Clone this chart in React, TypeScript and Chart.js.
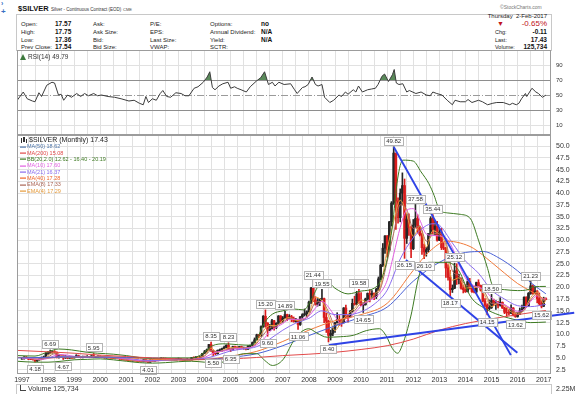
import React, { useEffect, useRef } from "react";
import { Chart, registerables } from "chart.js";

Chart.register(...registerables);
Chart.defaults.font.family = "'Liberation Sans', Arial, sans-serif";

// ---------------- DATA ----------------
const START_YEAR = 1997; // first monthly candle: Jan 1997

const OPEN = [
  4.78,4.82,5.18,4.98,4.75,4.72,4.62,4.35,4.58,4.80,4.90,5.20,
  5.98,6.05,6.30,6.35,6.20,5.15,5.50,5.40,5.00,5.15,4.95,5.05,
  5.00,5.20,5.50,5.10,5.05,5.35,5.15,5.30,5.20,5.45,5.10,5.15,
  5.40,5.25,5.10,5.00,5.05,5.00,4.98,4.90,4.92,4.85,4.75,4.70,
  4.60,4.55,4.45,4.35,4.40,4.35,4.30,4.25,4.20,4.65,4.20,4.10,
  4.55,4.22,4.50,4.55,4.60,4.90,4.85,4.55,4.60,4.55,4.45,4.55,
  4.80,4.85,4.60,4.45,4.55,4.60,4.55,5.05,5.00,5.20,5.05,5.35,
  5.95,6.30,6.70,7.85,6.50,6.00,5.90,6.60,6.75,7.00,7.25,7.70,
  6.80,6.70,7.40,7.15,6.95,7.40,7.05,7.15,6.85,7.50,7.65,8.25,
  8.85,9.90,9.70,11.65,13.85,12.40,10.90,11.20,12.90,11.50,12.35,13.90,
  12.90,13.45,14.20,13.35,13.75,13.35,12.75,12.95,12.10,13.75,14.20,14.40,
  14.80,16.85,19.85,17.25,16.40,16.90,17.55,17.60,13.60,12.80,9.80,10.20,
  11.30,12.50,13.20,13.10,12.50,15.60,13.90,13.70,14.90,16.60,16.40,18.60,
  16.90,16.20,16.30,17.50,18.70,18.40,18.70,18.00,19.60,21.80,24.70,28.30,
  30.90,27.90,33.90,37.90,48.50,38.30,34.80,40.00,41.60,30.40,34.50,32.70,
  28.20,33.20,34.60,32.50,31.20,28.40,27.50,28.00,31.40,34.60,32.30,33.00,
  30.00,31.70,28.40,28.30,24.10,22.10,19.50,19.80,23.50,21.70,21.90,19.80,
  19.50,19.10,21.20,19.80,19.10,19.00,21.00,20.40,19.40,17.10,16.20,15.50,
  15.70,17.20,16.60,16.60,16.20,16.80,15.60,14.70,14.60,14.50,15.60,14.10,
  13.80,14.30,15.00,15.40,17.90,16.00,18.70,20.30,18.70,19.20,17.60,16.50,
  15.99,17.57,
];
const HIGH = [
  4.92,5.30,5.30,5.00,4.90,4.78,4.65,4.65,4.90,5.20,5.40,6.15,
  6.40,6.69,6.50,6.55,6.30,5.60,5.60,5.50,5.55,5.30,5.20,5.10,
  5.30,5.70,5.60,5.25,5.40,5.40,5.50,5.35,5.50,5.95,5.30,5.45,
  5.45,5.35,5.15,5.15,5.10,5.10,5.05,5.00,5.00,4.90,4.80,4.75,
  4.80,4.60,4.50,4.45,4.55,4.40,4.35,4.30,4.70,4.70,4.25,4.65,
  4.65,4.55,4.70,4.65,5.10,5.05,5.00,4.70,4.70,4.60,4.60,4.85,
  5.00,4.90,4.65,4.70,4.85,4.65,5.10,5.25,5.30,5.20,5.40,6.00,
  6.60,6.90,7.90,8.35,6.55,6.30,6.70,6.90,7.10,7.50,7.80,8.23,
  6.90,7.50,7.50,7.40,7.45,7.50,7.30,7.20,7.60,7.75,8.40,9.25,
  10.05,10.00,11.80,14.00,15.20,12.50,12.10,13.20,13.00,12.50,14.00,14.00,
  13.80,14.89,14.30,14.20,14.05,13.70,13.40,13.00,13.80,14.40,15.40,15.00,
  17.10,20.00,21.44,18.00,17.60,17.60,19.55,17.70,14.50,13.00,10.90,11.40,
  12.50,14.60,14.00,13.20,15.70,16.20,14.10,15.10,17.50,18.10,19.15,19.58,
  18.90,16.50,17.70,18.80,19.50,19.30,18.80,19.80,22.20,24.90,29.30,31.00,
  31.00,34.00,38.20,49.82,48.50,39.00,40.90,44.30,43.00,35.60,35.60,33.00,
  34.40,37.58,35.40,33.00,31.50,29.20,28.50,31.40,35.00,35.44,34.20,34.00,
  32.50,32.50,29.50,28.50,24.80,23.60,20.50,25.12,25.00,22.80,22.00,20.50,
  20.50,22.20,21.90,20.30,19.80,21.10,21.60,20.50,19.50,17.60,16.50,17.30,
  18.50,17.50,17.20,17.00,17.80,16.90,15.80,15.70,15.30,16.30,15.70,14.50,
  14.60,15.60,16.20,18.00,18.00,18.90,21.23,20.50,20.00,19.30,18.80,17.20,
  17.90,17.75,
];
const LOW = [
  4.68,4.75,4.90,4.63,4.65,4.55,4.18,4.25,4.50,4.70,4.85,5.10,
  5.75,5.95,6.00,6.05,5.00,4.95,5.25,4.67,4.90,4.85,4.90,4.85,
  4.95,5.15,5.05,5.00,5.00,5.05,5.10,5.05,5.10,5.05,5.05,5.10,
  5.10,5.05,4.95,4.95,4.95,4.90,4.85,4.80,4.80,4.70,4.60,4.55,
  4.50,4.40,4.30,4.30,4.30,4.20,4.15,4.15,4.15,4.15,4.01,4.05,
  4.20,4.20,4.45,4.45,4.55,4.80,4.50,4.50,4.50,4.40,4.40,4.50,
  4.75,4.55,4.40,4.40,4.50,4.45,4.50,4.95,4.95,4.90,5.00,5.30,
  5.95,6.20,6.65,6.40,5.50,5.70,5.80,6.40,6.40,6.95,7.15,6.75,
  6.35,6.55,7.05,6.85,6.85,6.95,6.85,6.70,6.80,7.35,7.60,8.15,
  8.80,9.30,9.55,11.50,11.50,9.60,10.80,11.10,10.90,11.20,12.20,12.40,
  12.55,13.40,12.90,13.30,12.70,12.60,12.60,11.06,11.90,13.40,13.90,13.60,
  14.70,16.50,16.95,16.20,16.00,16.10,17.30,12.50,10.40,8.40,8.80,9.70,
  10.40,12.40,11.90,11.70,12.40,13.50,12.60,13.60,14.80,16.20,16.30,16.60,
  16.10,14.65,16.20,17.30,16.90,17.70,17.40,17.60,19.30,21.60,24.40,27.20,
  26.40,27.70,33.00,37.60,32.30,33.60,33.90,37.60,26.15,29.30,31.00,26.30,
  28.00,32.70,31.50,30.90,27.00,26.10,26.60,27.50,31.20,31.40,31.00,29.80,
  29.90,28.00,28.00,22.10,21.50,18.17,18.90,19.70,20.60,20.70,19.60,18.80,
  18.90,19.00,19.60,18.90,18.80,18.70,20.30,19.20,16.90,15.80,14.15,15.20,
  15.50,16.10,15.30,15.60,16.00,15.50,14.40,13.90,14.10,14.40,13.90,13.62,
  13.65,14.20,14.80,15.30,15.80,15.90,18.50,18.50,18.60,16.70,16.10,15.62,
  15.90,17.36,
];
const CLOSE = [
  4.82,5.18,4.98,4.75,4.72,4.62,4.35,4.58,4.80,4.90,5.20,5.98,
  6.05,6.30,6.35,6.20,5.15,5.50,5.40,5.00,5.15,4.95,5.05,5.00,
  5.20,5.50,5.10,5.05,5.35,5.15,5.30,5.20,5.45,5.10,5.15,5.40,
  5.25,5.10,5.00,5.05,5.00,4.98,4.90,4.92,4.85,4.75,4.70,4.60,
  4.55,4.45,4.35,4.40,4.35,4.30,4.25,4.20,4.65,4.20,4.10,4.55,
  4.22,4.50,4.55,4.60,4.90,4.85,4.55,4.60,4.55,4.45,4.55,4.80,
  4.85,4.60,4.45,4.55,4.60,4.55,5.05,5.00,5.20,5.05,5.35,5.95,
  6.30,6.70,7.85,6.50,6.00,5.90,6.60,6.75,7.00,7.25,7.70,6.80,
  6.70,7.40,7.15,6.95,7.40,7.05,7.15,6.85,7.50,7.65,8.25,8.85,
  9.90,9.70,11.65,13.85,12.40,10.90,11.20,12.90,11.50,12.35,13.90,12.90,
  13.45,14.20,13.35,13.75,13.35,12.75,12.95,12.10,13.75,14.20,14.40,14.80,
  16.85,19.85,17.25,16.40,16.90,17.55,17.60,13.60,12.80,9.80,10.20,11.30,
  12.50,13.20,13.10,12.50,15.60,13.90,13.70,14.90,16.60,16.40,18.60,16.90,
  16.20,16.30,17.50,18.70,18.40,18.70,18.00,19.60,21.80,24.70,28.30,30.90,
  27.90,33.90,37.90,48.50,38.30,34.80,40.00,41.60,30.40,34.50,32.70,28.20,
  33.20,34.60,32.50,31.20,28.40,27.50,28.00,31.40,34.60,32.30,33.00,30.00,
  31.70,28.40,28.30,24.10,22.10,19.50,19.80,23.50,21.70,21.90,19.80,19.50,
  19.10,21.20,19.80,19.10,19.00,21.00,20.40,19.40,17.10,16.20,15.50,15.70,
  17.20,16.60,16.60,16.20,16.80,15.60,14.70,14.60,14.50,15.60,14.10,13.80,
  14.30,15.00,15.40,17.90,16.00,18.70,20.30,18.70,19.20,17.60,16.50,15.99,
  17.50,17.43,
];

// Overlays (time in decimal years, value in $)
const MA200_T = [1996.81,1998,1999,2000,2001,2002,2003,2004,2005,2006,2007,2008,2009,2010,2011,2012,2013,2014,2015,2016,2017.083];
const MA200_V = [6.6,6.3,6.0,5.6,5.3,5.0,4.8,4.7,4.8,5.1,5.5,5.8,6.2,6.8,7.6,9.0,10.9,12.3,13.3,14.2,15.08];

const MA50_T = [1996.81,1998,1999,2000,2001,2002,2003,2004,2005,2006,2007,2008,2009,2010,2011,2012,2013,2014,2014.7,2015.2,2016,2016.5,2017.083];
const MA50_V = [5.0,5.14,5.19,5.19,5.12,5.0,4.78,4.7,5.14,5.9,7.6,9.75,11.8,13.65,15.8,21.3,25.3,27.4,27.6,26.5,23.5,21.0,18.62];

const MA40_T = [1996.81,1998,1999,2000,2001,2002,2003,2004,2005,2006,2007,2008,2009,2010,2011,2012,2012.6,2013.3,2013.8,2014.3,2015,2015.5,2016,2016.5,2017.083];
const MA40_V = [5.1,5.0,5.2,5.3,5.05,4.7,4.55,4.65,5.4,6.4,8.5,10.9,12.9,14.2,16.6,23.6,27.5,29.8,29.4,28.3,25.3,23.0,20.8,19.2,17.28];

const MA21_T = [1996.81,1997.5,1998,1998.5,1999,1999.5,2000,2000.5,2001,2001.5,2002,2002.5,2003,2003.5,2004,2004.5,2005,2005.5,2006,2006.5,2007,2007.5,2008,2008.5,2009,2009.5,2010,2010.5,2011,2011.5,2012,2012.5,2012.8,2013,2013.5,2014,2014.5,2015,2015.5,2016,2016.5,2017.083];
const MA21_V = [5.1,5.0,4.95,5.3,5.35,5.3,5.25,5.1,4.95,4.6,4.45,4.45,4.55,4.65,4.9,5.6,6.5,6.9,7.4,9.0,10.9,12.4,13.4,15.0,14.2,14.2,14.8,16.4,19.4,26.0,30.5,33.1,33.5,33.2,29.4,25.6,23.0,19.4,17.5,16.1,15.9,16.37];

const BBU_T = [1996.81,1997.5,1998.0,1998.4,1998.9,1999.5,1999.9,2000.5,2001.0,2001.5,2002.0,2002.5,2003.0,2003.5,2003.9,2004.3,2004.8,2005.3,2005.8,2006.0,2006.3,2006.6,2007.0,2007.4,2007.8,2008.1,2008.4,2008.7,2009.0,2009.5,2010.0,2010.5,2010.8,2011.0,2011.2,2011.4,2011.6,2012.0,2012.3,2012.6,2012.8,2013.0,2013.3,2013.8,2014.2,2014.5,2014.85,2015.05,2015.5,2016.0,2016.4,2016.6,2017.083];
const BBU_V = [5.5,5.4,6.3,6.9,6.7,6.2,6.0,5.8,5.5,5.1,4.9,5.0,5.0,5.0,5.8,7.6,8.0,7.8,7.7,9.0,12.5,14.3,15.0,15.4,15.2,17.5,20.6,21.2,19.8,18.6,19.2,19.8,22.0,26.0,33.0,43.0,47.0,46.8,44.5,42.0,39.5,36.5,35.8,35.5,34.5,30.0,24.0,20.3,19.5,19.3,19.5,20.1,20.19];

const BBL_T = [1996.81,1997.5,1998.0,1998.5,1999.0,1999.5,2000.0,2000.5,2001.0,2001.5,2002.0,2002.5,2003.0,2003.5,2004.0,2004.5,2005.0,2005.5,2006.0,2006.3,2006.6,2007.0,2007.4,2007.7,2008.0,2008.3,2008.7,2009.2,2009.7,2010.2,2010.7,2010.95,2011.2,2011.4,2011.6,2011.9,2012.25,2012.6,2013.3,2013.75,2014.2,2014.75,2015.3,2016.0,2016.5,2017.083];
const BBL_V = [4.3,4.1,4.1,4.3,4.6,4.7,4.8,4.6,4.3,4.0,3.9,4.0,4.2,4.3,4.1,3.9,4.8,5.9,5.9,4.5,3.4,4.6,8.5,10.5,11.2,10.3,9.4,9.5,9.8,10.8,11.2,9.8,7.0,6.0,8.0,13.7,23.0,25.3,25.3,23.5,18.0,15.5,14.1,13.0,12.5,12.62];

// quarterly samples (1997.00 ... 2017.00, then Feb 2017)
const MA10_V = [
  4.9,4.9,4.8,4.7, 4.9,5.5,5.7,5.6, 5.3,5.2,5.2,5.25, 5.25,5.2,5.1,4.95, 4.8,4.6,4.45,4.35,
  4.35,4.4,4.55,4.65, 4.65,4.65,4.6,4.8, 5.1,5.8,6.3,6.5, 6.8,7.0,7.05,7.2, 7.8,8.9,10.6,11.5,
  12.3,13.2,13.2,13.3, 13.9,15.6,17.0,15.8, 13.8,12.2,13.2,14.5, 16.0,17.0,17.7,18.9, 21.5,27.0,32.7,36.4,
  36.7,34.3,31.3,31.0, 30.9,30.5,28.4,24.9, 22.0,20.6,20.0,19.4, 17.8,16.7,16.3,15.5, 14.9,15.3,17.0,18.2,
  17.5,17.6,
];
const EMA8_V = [
  4.9,4.95,4.8,4.7, 5.2,5.9,5.7,5.3, 5.1,5.2,5.2,5.27, 5.25,5.15,5.03,4.92, 4.72,4.5,4.38,4.38,
  4.35,4.42,4.68,4.62, 4.65,4.62,4.6,4.9, 5.4,6.6,6.3,6.6, 7.0,7.1,7.1,7.2, 8.1,9.9,11.4,11.8,
  12.6,13.4,13.2,13.1, 14.1,16.8,17.0,14.8, 12.0,12.5,13.8,15.0, 16.6,16.9,18.1,19.8, 25.5,31.5,37.5,36.5,
  32.5,33.0,29.8,31.2, 31.5,29.7,23.5,22.5, 20.5,20.2,20.1,18.8, 16.6,16.6,16.3,15.2, 14.6,15.1,17.3,18.6,
  17.2,17.33,
];
const EMA4_V = [
  4.8,5.0,4.68,4.62, 5.5,6.25,5.5,5.15, 5.0,5.25,5.2,5.3, 5.25,5.1,5.0,4.88, 4.65,4.42,4.34,4.4,
  4.35,4.45,4.8,4.57, 4.65,4.6,4.57,5.05, 5.6,7.1,6.15,6.8, 7.2,7.15,7.15,7.2, 8.4,10.7,11.9,11.9,
  13.0,13.6,13.0,13.0, 14.5,17.9,17.1,14.0, 10.8,12.8,14.4,15.5, 17.3,16.9,18.5,20.4, 28.0,34.0,38.5,35.5,
  30.8,33.0,28.5,32.0, 31.2,29.0,21.5,22.0, 19.8,20.0,20.0,18.2, 15.9,16.6,16.1,14.8, 14.3,15.2,17.8,19.0,
  16.6,17.29,
];

// Trendlines drawn on chart: [startYear, startPrice, endYear, endPrice]
const TREND_LINES = [
  [2011.25, 49.82, 2015.74, 5.6],
  [2011.72, 25.8, 2015.99, 6.1],
  [2008.77, 7.74, 2018.17, 14.6],
];

// Swing price annotations
const PL_T = [1997.5,1998.083,1998.583,1999.75,2001.833,2004.25,2004.333,2004.917,2005.0,2006.333,2006.417,2007.083,2007.583,2008.167,2008.5,2008.75,2009.917,2010.083,2011.25,2011.667,2012.083,2012.417,2012.75,2013.417,2013.583,2014.833,2015.0,2015.917,2016.5,2016.917];
const PL_V = [4.18,6.69,4.67,5.95,4.01,8.35,5.50,8.23,6.35,15.20,9.60,14.89,11.06,21.44,19.55,8.40,19.58,14.65,49.82,26.15,37.58,26.10,35.44,18.17,25.12,14.15,18.50,13.62,21.23,15.62];
const PL_SIDE = ["l","h","l","h","l","h","l","h","l","h","l","h","l","h","h","l","h","l","h","l","h","l","h","l","h","l","h","l","h","l"];

// RSI(14) [year, value]
const RSI = [
  [1996.82,43],[1997.05,54],[1997.2,45],[1997.4,42],[1997.5,41],[1997.65,53],[1997.75,48],[1997.95,63],
  [1998.15,67],[1998.25,66],[1998.4,50],[1998.5,51],[1998.6,43],[1998.75,50],[1998.9,47],[1999.1,52],
  [1999.25,48],[1999.4,52],[1999.55,49],[1999.75,52],[1999.9,49],[2000.05,50],[2000.3,48],[2000.55,47],
  [2000.8,45],[2001.1,42],[2001.3,43],[2001.5,39],[2001.65,37],[2001.75,48],[2001.85,40],[2002.0,45],
  [2002.15,43],[2002.3,52],[2002.4,56],[2002.55,48],[2002.7,47],[2002.9,53],[2003.1,52],[2003.25,49],
  [2003.4,49],[2003.6,59],[2003.75,61],[2003.95,67],[2004.1,74],[2004.2,81],[2004.3,60],[2004.4,57],
  [2004.55,62],[2004.7,65],[2004.9,67],[2005.0,59],[2005.15,61],[2005.25,59],[2005.4,57],[2005.6,54],
  [2005.75,61],[2006.0,69],[2006.15,73],[2006.3,81],[2006.45,64],[2006.6,67],[2006.7,62],[2006.85,67],
  [2007.05,64],[2007.3,65],[2007.45,57],[2007.55,52],[2007.75,60],[2007.85,61],[2007.97,64],[2008.12,74],
  [2008.25,64],[2008.35,62],[2008.5,64],[2008.6,47],[2008.8,40],[2008.95,43],[2009.15,50],[2009.25,48],
  [2009.4,54],[2009.5,51],[2009.7,57],[2009.8,54],[2009.9,62],[2010.05,54],[2010.25,57],[2010.4,58],
  [2010.55,59],[2010.65,64],[2010.8,75],[2010.9,78],[2011.05,68],[2011.2,77],[2011.27,84],[2011.35,66],
  [2011.45,64],[2011.6,65],[2011.75,54],[2011.85,56],[2012.1,52],[2012.3,54],[2012.5,50],[2012.65,49],
  [2012.75,54],[2012.9,52],[2013.1,50],[2013.3,43],[2013.5,37],[2013.6,43],[2013.8,41],[2014.0,41],
  [2014.1,44],[2014.25,40],[2014.5,43],[2014.65,41],[2014.85,37],[2015.05,39],[2015.2,40],[2015.45,40],
  [2015.7,37],[2015.8,39],[2015.95,37],[2016.05,39],[2016.15,45],[2016.3,52],[2016.35,48],[2016.55,59],
  [2016.7,54],[2016.8,52],[2016.95,47],[2017.08,49.79],
];
const RSI_LEVELS_STRONG = [30, 70];
const RSI_MID = 50;
const RSI_TICKS = [10, 30, 50, 70, 90];
const PRICE_TICKS = Array.from({ length: 20 }, (_, i) => 2.5 * (i + 1));
const GRID_TIMES = Array.from({ length: 41 }, (_, i) => 1997 + i * 0.5);

const LEGEND_TEXT = ["MA(50) 18.62","MA(200) 15.08","BB(20,2.0) 12.62 - 16.40 - 20.19","MA(10) 17.60","MA(21) 16.37","MA(40) 17.28","EMA(8) 17.33","EMA(4) 17.29"];
const LEGEND_COLOR = ["#5077aa","#e04848","#3d7a22","#e25fe2","#8a6cee","#f0642a","#aa6656","#e59a3a"];

// ---------------- helpers ----------------
const X_MIN = 1996.81, X_MAX = 2017.28;
const UP = "#262626", DOWN = "#d91c1c";
const GRID = "#e1e1e1";
const FONT = "'Liberation Sans', Arial, sans-serif";

const pts = (T: number[], V: number[]) => T.map((t, i) => ({ x: t, y: V[i] }));
const QT = MA10_V.map((_, i) => (i < 81 ? START_YEAR + i * 0.25 : 2017.083));
const monthT = (i: number) => START_YEAR + i / 12;

const zeroPad = (s: any) => {
  s.paddingTop = 0;
  s.paddingBottom = 0;
  s.paddingLeft = 0;
  s.paddingRight = 0;
};

const framePlugin = {
  id: "frame",
  afterDraw(chart: any) {
    const { ctx, chartArea: a } = chart;
    ctx.save();
    ctx.strokeStyle = "#9c9c9c";
    ctx.lineWidth = 1;
    ctx.strokeRect(Math.round(a.left) + 0.5, Math.round(a.top) + 0.5, Math.round(a.width) - 1, Math.round(a.height) - 1);
    ctx.restore();
  },
};

const priceLabelPlugin = {
  id: "priceLabels",
  afterDatasetsDraw(chart: any) {
    const { ctx, scales } = chart;
    ctx.save();
    ctx.font = `6px ${FONT}`;
    ctx.textAlign = "center";
    ctx.textBaseline = "middle";
    PL_T.forEach((t, i) => {
      const v = PL_V[i];
      const px = scales.x.getPixelForValue(t);
      const py = scales.y.getPixelForValue(v) + (PL_SIDE[i] === "h" ? -6 : 7);
      const txt = v.toFixed(2);
      const w = Math.round(ctx.measureText(txt).width + 4);
      const bx = Math.round(px - w / 2) + 0.5, by = Math.round(py - 4) + 0.5;
      ctx.fillStyle = "rgba(255,255,255,0.92)";
      ctx.fillRect(bx, by, w, 8);
      ctx.strokeStyle = "#b4b4b4";
      ctx.lineWidth = 1;
      ctx.strokeRect(bx, by, w, 8);
      ctx.fillStyle = "#333";
      ctx.fillText(txt, px, py + 0.5);
    });
    ctx.restore();
  },
};

const mainLegendPlugin = {
  id: "mainLegend",
  afterDraw(chart: any) {
    const { ctx, chartArea: a } = chart;
    const x0 = a.left + 3;
    ctx.save();
    ctx.fillStyle = "#333";
    ctx.fillRect(x0 + 1, a.top + 3, 1, 5);
    ctx.fillRect(x0 + 3, a.top + 2, 2, 5);
    ctx.fillRect(x0 + 6, a.top + 4, 1, 4);
    ctx.font = `7px ${FONT}`;
    ctx.textBaseline = "middle";
    ctx.fillStyle = "#222";
    ctx.fillText("$SILVER (Monthly) 17.43", x0 + 9, a.top + 5.5);
    ctx.font = `5.5px ${FONT}`;
    LEGEND_TEXT.forEach((txt, i) => {
      const y = a.top + 11.7 + i * 6.35;
      ctx.fillStyle = LEGEND_COLOR[i];
      ctx.fillRect(x0, Math.round(y) - 0.5, 6, 1.2);
      ctx.fillText(txt, x0 + 7, y);
    });
    ctx.restore();
  },
};

const rsiDecorPlugin = {
  id: "rsiDecor",
  beforeDatasetsDraw(chart: any) {
    const { ctx, chartArea: a, scales } = chart;
    ctx.save();
    ctx.strokeStyle = "#9a9a9a";
    ctx.lineWidth = 1;
    ctx.setLineDash([7, 2, 1, 2]);
    const y = Math.round(scales.y.getPixelForValue(RSI_MID)) + 0.5;
    ctx.beginPath();
    ctx.moveTo(a.left, y);
    ctx.lineTo(a.right, y);
    ctx.stroke();
    ctx.restore();
  },
  afterDraw(chart: any) {
    const { ctx, chartArea: a } = chart;
    ctx.save();
    const x0 = a.left + 3;
    ctx.fillStyle = "#3e7a3e";
    ctx.beginPath();
    ctx.moveTo(x0, a.top + 10);
    ctx.lineTo(x0 + 3, a.top + 4);
    ctx.lineTo(x0 + 6, a.top + 10);
    ctx.closePath();
    ctx.fill();
    ctx.font = `6.5px ${FONT}`;
    ctx.textBaseline = "middle";
    ctx.fillStyle = "#333";
    ctx.fillText("RSI(14) 49.79", x0 + 8, a.top + 7.5);
    ctx.restore();
  },
};

const timeAxis = (showLabels: boolean, height: number) => ({
  type: "linear" as const,
  min: X_MIN,
  max: X_MAX,
  offset: false,
  grid: { color: GRID, drawTicks: false },
  border: { display: false },
  ticks: {
    display: showLabels,
    autoSkip: false,
    maxRotation: 0,
    padding: 2,
    color: "#333",
    font: { size: 7, family: FONT },
    callback: (v: any) => (Number.isInteger(v) ? String(v) : ""),
  },
  afterBuildTicks: (s: any) => {
    s.ticks = GRID_TIMES.map((v) => ({ value: v }));
  },
  afterFit: (s: any) => {
    s.height = height;
    zeroPad(s);
  },
});

function MainChart() {
  const ref = useRef<HTMLCanvasElement | null>(null);
  useEffect(() => {
    if (!ref.current) return;
    const colors = CLOSE.map((c, i) => (c >= OPEN[i] ? UP : DOWN));
    const line = (label: string, data: any[], color: string, order: number, width = 1) => ({
      type: "line" as const,
      label,
      data,
      borderColor: color,
      borderWidth: width,
      pointRadius: 0,
      cubicInterpolationMode: "monotone" as const,
      fill: false,
      order,
    });
    const chart = new Chart(ref.current, {
      type: "bar",
      data: {
        datasets: [
          ...TREND_LINES.map((l, k) => ({
            type: "line" as const,
            label: "trend" + k,
            data: [{ x: l[0], y: l[1] }, { x: l[2], y: l[3] }],
            borderColor: "#2f43e6",
            borderWidth: 2,
            pointRadius: 0,
            clip: false as any,
            order: 0,
          })),
          line("MA200", pts(MA200_T, MA200_V), "#e24a4a", 3),
          line("BBU", pts(BBU_T, BBU_V), "#3d7a22", 3),
          line("BBL", pts(BBL_T, BBL_V), "#3d7a22", 3),
          line("MA50", pts(MA50_T, MA50_V), "#4a62d6", 3),
          line("MA40", pts(MA40_T, MA40_V), "#f07a3a", 3),
          line("MA21", pts(MA21_T, MA21_V), "#8a6cee", 3),
          line("MA10", pts(QT, MA10_V), "#e25fe2", 4),
          line("EMA8", pts(QT, EMA8_V), "#b06a5a", 4),
          line("EMA4", pts(QT, EMA4_V), "#e8a040", 4),
          {
            type: "bar" as const,
            label: "wick",
            data: CLOSE.map((_, i) => ({ x: monthT(i), y: [LOW[i], HIGH[i]] })) as any,
            backgroundColor: colors,
            barThickness: 1,
            grouped: false,
            order: 6,
          },
          {
            type: "bar" as const,
            label: "body",
            data: CLOSE.map((c, i) => ({ x: monthT(i), y: [Math.min(OPEN[i], c), Math.max(OPEN[i], c)] })) as any,
            backgroundColor: colors,
            barThickness: 2,
            grouped: false,
            order: 5,
          },
        ] as any,
      },
      options: {
        animation: false,
        responsive: false,
        devicePixelRatio: 1,
        events: [],
        layout: { padding: { left: 17, right: 0, top: 0, bottom: 0 } },
        plugins: { legend: { display: false }, tooltip: { enabled: false } },
        scales: {
          x: timeAxis(true, 20) as any,
          y: {
            type: "linear",
            position: "right",
            min: 1.59,
            max: 52.34,
            grid: { color: GRID, drawTicks: false },
            border: { display: false },
            ticks: {
              padding: 5,
              color: "#333",
              font: { size: 7, family: FONT },
              callback: (v: any) => Number(v).toFixed(1),
            },
            afterBuildTicks: (s: any) => {
              s.ticks = PRICE_TICKS.map((v) => ({ value: v }));
            },
            afterFit: (s: any) => {
              s.width = 34;
              zeroPad(s);
            },
          } as any,
        },
      },
      plugins: [framePlugin, priceLabelPlugin, mainLegendPlugin],
    });
    return () => chart.destroy();
  }, []);
  return <canvas ref={ref} width={585} height={259} style={{ width: 585, height: 259, display: "block" }} />;
}

function RsiChart() {
  const ref = useRef<HTMLCanvasElement | null>(null);
  useEffect(() => {
    if (!ref.current) return;
    const chart = new Chart(ref.current, {
      type: "line",
      data: {
        datasets: [
          {
            label: "RSI",
            data: RSI.map((p) => ({ x: p[0], y: p[1] })),
            borderColor: "#3c3c3c",
            borderWidth: 1,
            pointRadius: 0,
            tension: 0,
            fill: { target: { value: 70 }, above: "#5a8a5a", below: "rgba(0,0,0,0)" } as any,
          },
        ],
      },
      options: {
        animation: false,
        responsive: false,
        devicePixelRatio: 1,
        events: [],
        layout: { padding: { left: 17, right: 0, top: 0, bottom: 0 } },
        plugins: { legend: { display: false }, tooltip: { enabled: false } },
        scales: {
          x: timeAxis(false, 0) as any,
          y: {
            type: "linear",
            position: "right",
            min: -3.33,
            max: 110,
            grid: {
              drawTicks: false,
              color: (c: any) =>
                c.tick && RSI_LEVELS_STRONG.includes(c.tick.value)
                  ? "#8e8e8e"
                  : c.tick && c.tick.value === RSI_MID
                  ? "rgba(0,0,0,0)"
                  : GRID,
            },
            border: { display: false },
            ticks: { padding: 5, color: "#333", font: { size: 6, family: FONT } },
            afterBuildTicks: (s: any) => {
              s.ticks = RSI_TICKS.map((v) => ({ value: v }));
            },
            afterFit: (s: any) => {
              s.width = 34;
              zeroPad(s);
            },
          } as any,
        },
      },
      plugins: [framePlugin, rsiDecorPlugin],
    });
    return () => chart.destroy();
  }, []);
  return <canvas ref={ref} width={585} height={85} style={{ width: 585, height: 85, display: "block" }} />;
}

const ROW_Y = [24, 31.8, 39.5, 47];
const COL1 = ["Open:", "High:", "Low:", "Prev Close:"];
const COL1V = ["17.57", "17.75", "17.36", "17.54"];
const COL2 = ["Ask:", "Ask Size:", "Bid:", "Bid Size:"];
const COL3 = ["P/E:", "EPS:", "Last Size:", "VWAP:"];
const COL4 = ["Options:", "Annual Dividend:", "Yield:", "SCTR:"];
const COL4V = ["no", "N/A", "N/A", ""];
const RIGHT_LABELS = ["Chg:", "Last:", "Volume:"];
const RIGHT_VALUES = ["-0.11", "17.43", "125,734"];

const abs = (left: number, top: number, extra: any = {}) => ({
  position: "absolute" as const,
  left,
  top,
  whiteSpace: "nowrap" as const,
  lineHeight: "8px",
  ...extra,
});

export default function App() {
  const small = { fontSize: 6, color: "#222" };
  const bold = { fontSize: 6.5, fontWeight: 700, color: "#111" };
  return (
    <div
      style={{
        position: "absolute",
        left: 0,
        top: 0,
        width: 585,
        height: 394,
        background: "#fff",
        overflow: "hidden",
        fontFamily: FONT,
      }}
    >
      {/* header */}
      <div style={abs(1, 0, { color: "#3a6fc4", fontSize: 7, fontWeight: 700 })}>›</div>
      <div style={abs(1, 8, { color: "#3a6fc4", fontSize: 8, fontWeight: 700 })}>+</div>
      <div style={abs(18, 4, { fontSize: 7.5, fontWeight: 700, color: "#111", lineHeight: "10px" })}>$SILVER</div>
      <div style={abs(51, 5.5, { fontSize: 4.5, color: "#333" })}>Silver - Continuous Contract (EOD)</div>
      <div style={abs(123, 6, { fontSize: 4, color: "#444" })}>CME</div>
      <div style={abs(500, 2.5, { fontSize: 5, color: "#777" })}>©StockCharts.com</div>
      <div style={{ position: "absolute", left: 16, top: 14, width: 534, height: 36, border: "1px solid #c8c8c8", borderBottom: "none" }} />
      {ROW_Y.map((y, i) => (
        <React.Fragment key={i}>
          <div style={abs(21, y - 4, small)}>{COL1[i]}</div>
          <div style={abs(55, y - 4, bold)}>{COL1V[i]}</div>
          <div style={abs(93, y - 4, small)}>{COL2[i]}</div>
          <div style={abs(150, y - 4, small)}>{COL3[i]}</div>
          <div style={abs(210, y - 4, small)}>{COL4[i]}</div>
          <div style={abs(261, y - 4, bold)}>{COL4V[i]}</div>
        </React.Fragment>
      ))}
      <div style={abs(0, 12, { left: undefined, right: 38, fontSize: 6, color: "#222" })}>Thursday&nbsp; 2-Feb-2017</div>
      <div style={abs(497, 20, { fontSize: 7, color: "#c0141c" })}>▼</div>
      <div style={abs(0, 20, { left: undefined, right: 38, fontSize: 8, color: "#c0141c" })}>-0.65%</div>
      {RIGHT_LABELS.map((t, i) => (
        <React.Fragment key={t}>
          <div style={abs(495, ROW_Y[i + 1] - 4, { fontSize: 5.5, color: "#222" })}>{t}</div>
          <div style={abs(0, ROW_Y[i + 1] - 4, { left: undefined, right: 38, fontSize: 6.5, fontWeight: 700, color: "#111" })}>
            {RIGHT_VALUES[i]}
          </div>
        </React.Fragment>
      ))}

      {/* RSI panel */}
      <div style={{ position: "absolute", left: 0, top: 50 }}>
        <RsiChart />
      </div>
      {/* price panel */}
      <div style={{ position: "absolute", left: 0, top: 135 }}>
        <MainChart />
      </div>

      {/* volume strip */}
      <div style={{ position: "absolute", left: 16, top: 384, width: 534, height: 20, border: "1px solid #c8c8c8", background: "#fff" }} />
      <div style={abs(20, 385, { fontSize: 7, color: "#333" })}>
        <span style={{ display: "inline-block", width: 5, height: 5, borderLeft: "1px solid #444", borderBottom: "1px solid #444", marginRight: 2 }} />
        Volume 125,734
      </div>
      <div style={abs(556, 385, { fontSize: 7, color: "#333" })}>2.25M</div>
    </div>
  );
}
